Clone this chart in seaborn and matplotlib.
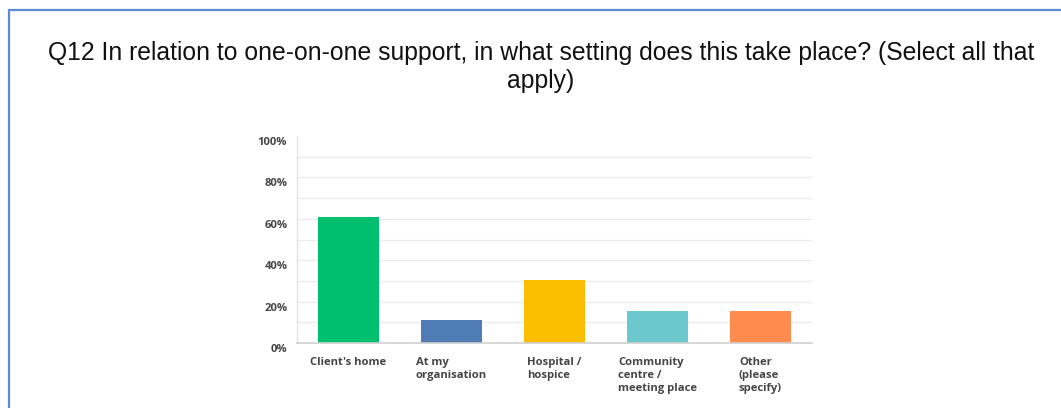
import matplotlib
matplotlib.use("Agg")
import matplotlib.pyplot as plt
import matplotlib.transforms as mtransforms
from matplotlib.lines import Line2D
from matplotlib.ticker import PercentFormatter, FixedLocator
import seaborn as sns
import pandas as pd

# Survey responses (share of respondents, %)
categories = [
    "Client's home",
    "At my\norganisation",
    "Hospital /\nhospice",
    "Community\ncentre /\nmeeting place",
    "Other\n(please\nspecify)",
]
shares = [61.1, 11.1, 30.6, 15.3, 15.3]
bar_colors = ["#00BF6F", "#507CB6", "#F9BE00", "#6BC8CD", "#FF8B4F"]
y_ticks = [0, 20, 40, 60, 80, 100]

title = ("Q12 In relation to one-on-one support, in what setting does this take place? (Select all that\n"
         "apply)")

sns.set_theme(style="white")
plt.rcParams["font.family"] = ["Open Sans", "DejaVu Sans"]

df = pd.DataFrame({"setting": categories, "share": shares})

fig = plt.figure(figsize=(10.61, 4.08), dpi=100)
ax = fig.add_axes([297 / 1061, 1 - 343 / 408, (812 - 297) / 1061, (343 - 136) / 408])

sns.barplot(data=df, x="setting", y="share", hue="setting",
            palette=bar_colors, width=0.6, legend=False, ax=ax,
            saturation=1, edgecolor="none")

ax.set_ylim(0, 100)
ax.set_xlim(-0.5, len(categories) - 0.5)
ax.set_xlabel("")
ax.set_ylabel("")

# light horizontal guides every 10%
for g in range(10, 100, 10):
    ax.axhline(g, color="#ebebeb", lw=1, zorder=0)
ax.set_axisbelow(True)

ax.yaxis.set_major_locator(FixedLocator(y_ticks))
ax.yaxis.set_major_formatter(PercentFormatter(decimals=0))
ax.tick_params(axis="both", length=0)
ax.tick_params(axis="y", pad=7, labelsize=8.1, labelcolor="#454545")
ax.tick_params(axis="x", pad=10, labelsize=8.1, labelcolor="#454545")

for lab in ax.get_yticklabels():
    lab.set_fontweight("bold")
    lab.set_transform(lab.get_transform() +
                      mtransforms.ScaledTranslation(0, -5 / 100, fig.dpi_scale_trans))
for lab in ax.get_xticklabels():
    lab.set_fontweight("bold")
    lab.set_multialignment("left")
    lab.set_linespacing(1.25)
    lab.set_verticalalignment("top")

for side in ("top", "right"):
    ax.spines[side].set_visible(False)
ax.spines["left"].set_color("#e2e2e2")
ax.spines["left"].set_linewidth(1)
ax.spines["bottom"].set_color("#cfcfcf")
ax.spines["bottom"].set_linewidth(1.2)

fig.text(541 / 1061, 1 - 67 / 408, title, ha="center", va="center",
         fontsize=17.8, family=["Liberation Sans", "DejaVu Sans"],
         color="#111111", linespacing=1.25)

# blue frame around the slide panel (top and left edges)
frame_color = "#5B8BD0"
fig.add_artist(Line2D([9 / 1061, 1.0], [1 - 10 / 408, 1 - 10 / 408],
                      transform=fig.transFigure, color=frame_color, lw=1.6))
fig.add_artist(Line2D([9 / 1061, 9 / 1061], [1 - 10 / 408, 0.0],
                      transform=fig.transFigure, color=frame_color, lw=1.6))

fig.savefig("out.png", dpi=100, facecolor="white")
